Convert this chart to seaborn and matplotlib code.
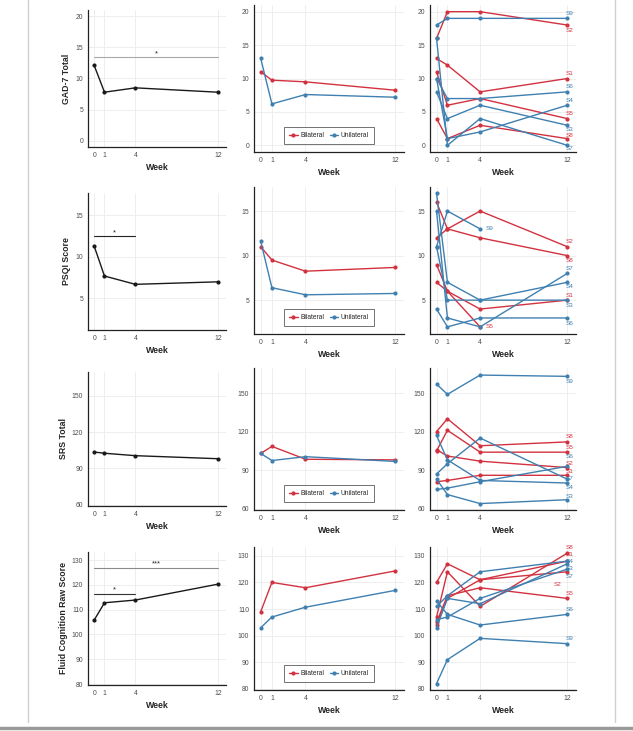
import numpy as np
import pandas as pd
import matplotlib
matplotlib.use('Agg')
import matplotlib.pyplot as plt
import seaborn as sns
from matplotlib.lines import Line2D

# ---- data ----
weeks = [0, 1, 4, 12]
subjects = ['S1', 'S2', 'S3', 'S4', 'S5', 'S6', 'S7', 'S8', 'S9']
groups = ['Bilateral', 'Bilateral', 'Unilateral', 'Unilateral', 'Bilateral',
          'Unilateral', 'Unilateral', 'Bilateral', 'Unilateral']

# overall means (left column)
gad_mean = [12.1, 7.8, 8.5, 7.8]
psqi_mean = [11.3, 7.7, 6.7, 7.0]
srs_mean = [103.5, 102.5, 100.5, 98.0]
fluid_mean = [105.8, 112.8, 113.9, 120.3]

# group means (middle column)
gad_bil = [11.0, 9.75, 9.5, 8.25]
gad_uni = [13.0, 6.2, 7.6, 7.2]
psqi_bil = [11.0, 9.5, 8.25, 8.67]
psqi_uni = [11.6, 6.4, 5.6, 5.75]
srs_bil = [103.0, 108.5, 98.5, 98.0]
srs_uni = [103.0, 97.5, 100.5, 96.8]
fluid_bil = [109.0, 120.0, 118.0, 124.3]
fluid_uni = [103.0, 107.0, 110.7, 117.0]

# individual subjects (right column), rows = S1..S9
gad_subj = [[13, 12, 8, 10], [16, 20, 20, 18], [8, 4, 6, 3], [10, 1, 2, 6],
            [11, 6, 7, 4], [10, 7, 7, 8], [16, 0, 4, 0], [4, 1, 3, 1],
            [18, 19, 19, 19]]
psqi_subj = [[9, 6, 4, 5], [12, 13, 15, 11], [11, 5, 5, 5], [17, 7, 5, 7],
             [7, 6, 2, np.nan], [4, 2, 3, 3], [15, 3, 2, 8], [16, 13, 12, 10],
             [11, 15, 13, np.nan]]
srs_subj = [[81, 82, 86, 86], [106, 101, 97, 92], [83, 71, 64, 67],
            [117, 98, 82, 80], [105, 121, 104, 104], [75, 76, 81, 93],
            [87, 95, 115, 83], [120, 130, 109, 112], [157, 149, 164, 163]]
fluid_subj = [[104, 114, 121, 128], [120, 127, 121, 124], [103, 114, 112, 127],
              [111, 115, 124, 128], [105, 115, 118, 114], [113, 108, 104, 108],
              [106, 107, 114, 125], [107, 124, 111, 131], [82, 91, 99, 97]]

# significance brackets: (from week, to week, height, stars, colour)
gad_sig = [(0, 12, 13.4, '*', '#a8a8a8')]
psqi_sig = [(0, 4, 12.5, '*', '#222222')]
srs_sig = []
fluid_sig = [(0, 4, 116.4, '*', '#333333'), (0, 12, 127.0, '***', '#8a8a8a')]

# ---- styling / layout ----
pal = {'Bilateral': '#d2323f', 'Unilateral': '#3f80b0'}
W, H = 633, 731

# tag offsets (points) for subject labels at line ends: (dx, dy)
gad_tag = {'S1': (-1, 3.6), 'S2': (-1, -4), 'S3': (-1, -3), 'S4': (-1, 3.6),
           'S5': (-1, 3.6), 'S6': (-1, 3.6), 'S7': (-1, -2.5), 'S8': (-1, 2.2),
           'S9': (-1, 3.4)}
psqi_tag = {'S1': (-1, 3.6), 'S2': (-1, 3.8), 'S3': (-1, -4), 'S4': (-1, -3.2),
            'S5': (4, 0), 'S6': (-1, -4), 'S7': (-1, 3.2), 'S8': (-1, -3.2),
            'S9': (4, 0)}
srs_tag = {'S1': (-1, 3), 'S2': (-1, 3), 'S3': (-1, 2.4), 'S4': (-1, -3.4),
           'S5': (-1, 3.4), 'S6': (-1, 7), 'S7': (-1, 0.8), 'S8': (-1, 3.6),
           'S9': (-1, -4)}
fluid_tag = {'S1': (-1, 4.5), 'S2': (-10, -9), 'S3': (-1, -3.5), 'S4': (-1, -0.5),
             'S5': (-1, 3.5), 'S6': (-1, 3.5), 'S7': (-1, -5), 'S8': (-1, 4),
             'S9': (-1, 4)}

rows = [
    ('GAD-7 Total', gad_mean, gad_bil, gad_uni, gad_subj, gad_sig, gad_tag,
     (-1, 21), [0, 5, 10, 15, 20]),
    ('PSQI Score', psqi_mean, psqi_bil, psqi_uni, psqi_subj, psqi_sig, psqi_tag,
     (1.2, 17.7), [5, 10, 15]),
    ('SRS Total', srs_mean, srs_bil, srs_uni, srs_subj, srs_sig, srs_tag,
     (59, 169.5), [60, 90, 120, 150]),
    ('Fluid Cognition Raw Score', fluid_mean, fluid_bil, fluid_uni, fluid_subj,
     fluid_sig, fluid_tag, (79.6, 133.3), [80, 90, 100, 110, 120, 130]),
]

# pixel boxes: (top, bottom) of left column and of the other two columns
row_px = [((10, 147), (5, 152)), ((193, 330), (187, 334)),
          ((372, 506), (368, 510)), ((552, 685), (547, 690))]
col_px = [(88, 226), (254, 404), (430, 576)]

sns.set_style('white')
plt.rcParams['font.family'] = ['Liberation Sans', 'DejaVu Sans']

fig = plt.figure(figsize=(W / 100, H / 100), dpi=100)


def add_ax(col, top, bottom):
    l, r = col_px[col]
    return fig.add_axes([l / W, 1 - bottom / H, (r - l) / W, (bottom - top) / H])


def style(ax, ylim, yticks):
    ax.set_xlim(-0.6, 12.8)
    ax.set_ylim(*ylim)
    ax.set_xticks(weeks)
    ax.set_yticks(yticks)
    ax.grid(True, color='#ebebeb', lw=0.6)
    ax.set_axisbelow(True)
    sns.despine(ax=ax)
    for s in ['left', 'bottom']:
        ax.spines[s].set_linewidth(0.9)
        ax.spines[s].set_color('#222222')
    ax.tick_params(labelsize=4.9, length=2, width=0.5, pad=1.5,
                   labelcolor='#4d4d4d', color='#333333')
    ax.set_xlabel('Week', fontsize=6.3, fontweight='bold', labelpad=3)
    ax.set_ylabel('')


for (ylab, mean, bil, uni, subj, sig, tags, ylim, yticks), ((t0, b0), (t1, b1)) in zip(rows, row_px):
    # left: overall mean
    ax = add_ax(0, t0, b0)
    sns.lineplot(x=weeks, y=mean, color='#1a1a1a', marker='o', markersize=3,
                 markeredgewidth=0, lw=1.0, ax=ax)
    for x0, x1, y, star, c in sig:
        ax.plot([x0, x1], [y, y], color=c, lw=0.8)
        ax.text((x0 + x1) / 2, y, star, ha='center', va='bottom', fontsize=5.5,
                color='#222222')
    style(ax, ylim, yticks)
    ax.set_ylabel(ylab, fontsize=6.3, fontweight='bold', labelpad=3)

    # middle: group means
    ax = add_ax(1, t1, b1)
    gdf = pd.DataFrame({'week': weeks * 2, 'score': bil + uni,
                        'group': ['Bilateral'] * 4 + ['Unilateral'] * 4})
    sns.lineplot(data=gdf, x='week', y='score', hue='group', palette=pal,
                 marker='o', markersize=3, markeredgewidth=0, lw=1.0, ax=ax)
    style(ax, ylim, yticks)
    ax.legend(title=None, loc='lower center', bbox_to_anchor=(0.5, 0.035), ncol=2,
              fontsize=4.8, frameon=True, fancybox=False, edgecolor='#333333',
              handlelength=1.3, handletextpad=0.4, columnspacing=0.8,
              borderpad=0.7).get_frame().set_linewidth(0.6)

    # right: individual subjects
    ax = add_ax(2, t1, b1)
    recs = []
    for s, g, vals in zip(subjects, groups, subj):
        for w, v in zip(weeks, vals):
            recs.append((s, g, w, v))
    sdf = pd.DataFrame(recs, columns=['subject', 'group', 'week', 'score']).dropna()
    sns.lineplot(data=sdf, x='week', y='score', hue='group', units='subject',
                 estimator=None, palette=pal, marker='o', markersize=3,
                 markeredgewidth=0, lw=1.0, legend=False, ax=ax)
    for s, g in zip(subjects, groups):
        last = sdf[sdf.subject == s].iloc[-1]
        ax.annotate(s, (last.week, last.score), xytext=tags[s],
                    textcoords='offset points', ha='left', va='center',
                    fontsize=4.6, color=pal[g])
    style(ax, ylim, yticks)

# page edges of the screenshot
fig.add_artist(Line2D([28 / W, 28 / W], [1 - 722 / H, 1], color='#d0d0d0', lw=1))
fig.add_artist(Line2D([615 / W, 615 / W], [1 - 722 / H, 1], color='#d0d0d0', lw=1))
fig.add_artist(Line2D([0, 1], [1 - 728 / H, 1 - 728 / H], color='#9a9a9a', lw=2.5))

fig.savefig('out.png', dpi=100)
